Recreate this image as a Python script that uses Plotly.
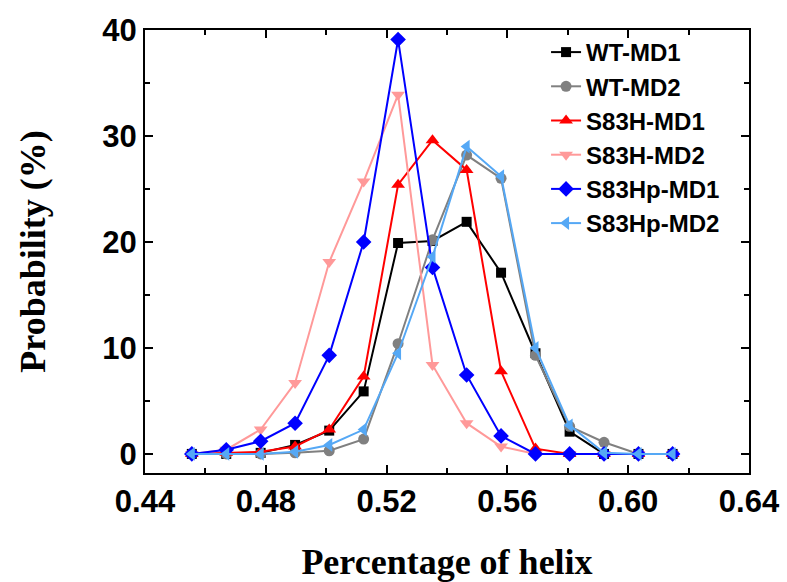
import plotly.graph_objects as go

# Helix fraction bins (x) and probability (%) for each simulation run
helix_fraction = [0.4555, 0.4669, 0.4783, 0.4897, 0.5010, 0.5124, 0.5238, 0.5352,
                  0.5465, 0.5579, 0.5693, 0.5806, 0.5920, 0.6034, 0.6147]

wt_md1 = [0.0, 0.0, 0.1, 0.85, 2.2, 5.9, 19.9, 20.1, 21.9, 17.1, 9.5, 2.1, 0.0, 0.0, 0.0]
wt_md2 = [0.0, 0.0, 0.0, 0.1, 0.3, 1.4, 10.4, 20.2, 28.2, 26.0, 9.3, 2.6, 1.1, 0.0, 0.0]
s83h_md1 = [0.0, 0.1, 0.2, 0.7, 2.3, 7.3, 25.4, 29.6, 26.8, 7.8, 0.5, 0.0, 0.0, 0.0, 0.0]
s83h_md2 = [0.0, 0.4, 2.3, 6.7, 18.1, 25.7, 33.9, 8.4, 2.9, 0.7, 0.0, 0.0, 0.0, 0.0, 0.0]
s83hp_md1 = [0.0, 0.4, 1.2, 2.9, 9.3, 20.0, 39.1, 17.6, 7.45, 1.7, 0.0, 0.0, 0.0, 0.0, 0.0]
s83hp_md2 = [0.0, 0.0, 0.0, 0.2, 0.85, 2.3, 9.5, 18.6, 29.0, 26.2, 10.0, 2.7, 0.1, 0.0, 0.0]

x_ticks = [0.44, 0.48, 0.52, 0.56, 0.60, 0.64]
x_tick_text = ["0.44", "0.48", "0.52", "0.56", "0.60", "0.64"]
y_ticks = [0, 10, 20, 30, 40]

series = [
    ("WT-MD1", wt_md1, "#000000", "square", 10),
    ("WT-MD2", wt_md2, "#808080", "circle", 11),
    ("S83H-MD1", s83h_md1, "#ff0000", "triangle-up", 12),
    ("S83H-MD2", s83h_md2, "#ff9999", "triangle-down", 12),
    ("S83Hp-MD1", s83hp_md1, "#0000ff", "diamond", 12),
    ("S83Hp-MD2", s83hp_md2, "#55a8f5", "triangle-left", 12),
]

fig = go.Figure()
for name, values, color, symbol, size in series:
    fig.add_trace(go.Scatter(
        x=helix_fraction, y=values, name=name, mode="lines+markers",
        line=dict(color=color, width=2),
        marker=dict(symbol=symbol, size=size, color=color),
    ))

axis_common = dict(
    showline=True, linecolor="black", linewidth=2, mirror="ticks",
    ticks="inside", ticklen=8, tickwidth=2, tickcolor="black",
    showgrid=False, zeroline=False, automargin=False,
    tickfont=dict(family="Liberation Sans", size=31, color="black", weight="bold"),
)

fig.update_xaxes(
    range=[0.44, 0.64], tickvals=x_ticks, ticktext=x_tick_text,
    minor=dict(ticks="inside", dtick=0.02, ticklen=5, tickwidth=2, tickcolor="black"),
    title=dict(text="Percentage of helix", standoff=33,
               font=dict(family="Liberation Serif", size=36, color="black", weight="bold")),
    **axis_common,
)
fig.update_yaxes(
    range=[-1.8, 40], tickvals=y_ticks,
    minor=dict(ticks="inside", dtick=5, ticklen=5, tickwidth=2, tickcolor="black"),
    title=dict(text="Probability (%)", standoff=46,
               font=dict(family="Liberation Serif", size=36, color="black", weight="bold")),
    **axis_common,
)

fig.update_layout(
    width=787, height=582,
    margin=dict(l=145, r=38, t=30, b=109),
    paper_bgcolor="white", plot_bgcolor="white",
    showlegend=True,
    legend=dict(
        x=0.664, y=1.0, xanchor="left", yanchor="top",
        bgcolor="rgba(0,0,0,0)", borderwidth=0,
        font=dict(family="Liberation Sans", size=24, color="black", weight="bold"),
        tracegroupgap=0,
    ),
)

fig.write_html("out.html")
